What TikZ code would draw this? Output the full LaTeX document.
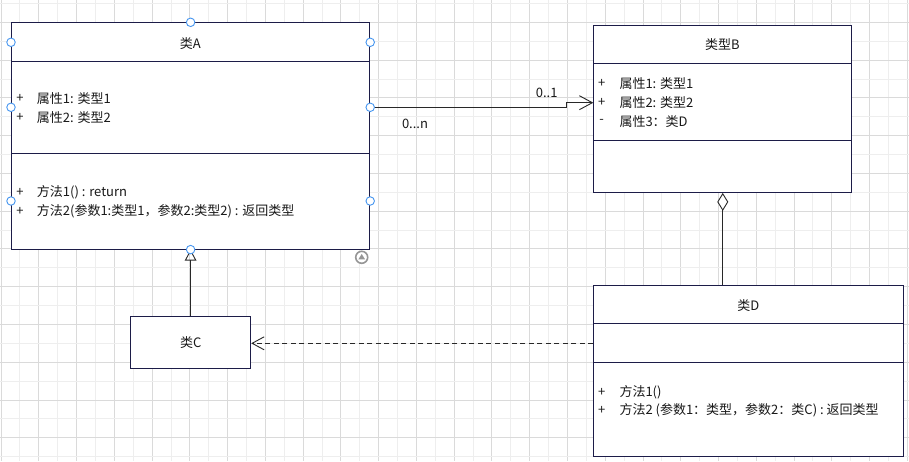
\documentclass[tikz,border=0pt]{standalone}
\usepackage{fontspec}
\setmainfont{Noto Sans CJK SC}
\usetikzlibrary{arrows.meta,calc}
\definecolor{gridA}{RGB}{218,218,218}
\definecolor{gridB}{RGB}{238,238,238}
\definecolor{boxc}{RGB}{28,28,72}
\definecolor{linec}{RGB}{40,40,40}
\definecolor{txtc}{RGB}{25,25,25}
\definecolor{handlec}{RGB}{70,150,240}
\definecolor{iconc}{RGB}{150,150,150}
\begin{document}
\begin{tikzpicture}[x=1pt,y=-1pt,
  umlbox/.style={draw=boxc, fill=white, line width=0.9pt, inner sep=0pt, anchor=north west},
  sep/.style={draw=boxc, line width=0.9pt},
  title/.style={font=\fontsize{13}{15}\selectfont, text=txtc, inner sep=0pt},
  txt/.style={font=\fontsize{13}{15}\selectfont, text=txtc, inner sep=0pt, anchor=west},
  vis/.style={font=\fontsize{13}{15}\selectfont, text=txtc, inner sep=0pt},
  conn/.style={draw=linec, line width=0.9pt},
  handle/.style={circle, draw=handlec, fill=white, line width=0.9pt, minimum size=8.5pt, inner sep=0pt}
]
% canvas and background grid
\useasboundingbox (0,0) rectangle (909,461);
\fill[white] (0,0) rectangle (909,461);
\foreach \k in {0,...,24} {
  \draw[gridA, line width=0.8pt] ({1+\k*37.76},0) -- ({1+\k*37.76},461);
  \draw[gridB, line width=0.8pt] ({19.88+\k*37.76},0) -- ({19.88+\k*37.76},461);
}
\foreach \k in {0,...,12} {
  \draw[gridA, line width=0.8pt] (0,{22.3+\k*37.76}) -- (909,{22.3+\k*37.76});
  \draw[gridB, line width=0.8pt] (0,{3.42+\k*37.76}) -- (909,{3.42+\k*37.76});
}

% class A
\node[umlbox, minimum width=358.3pt, minimum height=226.4pt] (A) at (11,22.3) {};
\draw[sep] ($(A.north west)+(0,39.4)$) -- ($(A.north east)+(0,39.4)$);
\draw[sep] ($(A.north west)+(0,131)$) -- ($(A.north east)+(0,131)$);
\node[title] (Atitle) at (190.2,43.3) {类A};
\node[vis] (Aa1v) at (20,98.3) {+};
\node[txt] (Aa1) at (36.7,98.3) {属性1: 类型1};
\node[vis] (Aa2v) at (20,117.3) {+};
\node[txt] (Aa2) at (36.7,117.3) {属性2: 类型2};
\node[vis] (Am1v) at (20,192.7) {+};
\node[txt] (Am1) at (36.7,192.7) {方法1() : return};
\node[vis] (Am2v) at (20,211.7) {+};
\node[txt] (Am2) at (36.7,211.7) {方法2(参数1:类型1，参数2:类型2) : 返回类型};

% type B
\node[umlbox, minimum width=258pt, minimum height=167.3pt] (B) at (593.3,24.7) {};
\draw[sep] ($(B.north west)+(0,38.6)$) -- ($(B.north east)+(0,38.6)$);
\draw[sep] ($(B.north west)+(0,115.6)$) -- ($(B.north east)+(0,115.6)$);
\node[title] (Btitle) at (722.3,45) {类型B};
\node[vis] (Ba1v) at (601.7,83.3) {+};
\node[txt] (Ba1) at (619.3,83.3) {属性1: 类型1};
\node[vis] (Ba2v) at (601.7,102.7) {+};
\node[txt] (Ba2) at (619.3,102.7) {属性2: 类型2};
\node[vis] (Ba3v) at (601.7,121.7) {-};
\node[txt] (Ba3) at (619.3,121.7) {属性3：类D};

% class D
\node[umlbox, minimum width=310pt, minimum height=171.3pt] (D) at (593.3,284.7) {};
\draw[sep] ($(D.north west)+(0,39)$) -- ($(D.north east)+(0,39)$);
\draw[sep] ($(D.north west)+(0,77.6)$) -- ($(D.north east)+(0,77.6)$);
\node[title] (Dtitle) at (748.3,305.7) {类D};
\node[vis] (Dm1v) at (601.7,392.7) {+};
\node[txt] (Dm1) at (619.3,392.7) {方法1()};
\node[vis] (Dm2v) at (601.7,410.7) {+};
\node[txt] (Dm2) at (619.3,410.7) {方法2 (参数1：类型，参数2：类C) : 返回类型};

% class C
\node[umlbox, minimum width=120pt, minimum height=51.7pt] (C) at (130.3,316.3) {};
\node[title] (Ctitle) at (C.center) {类C};

% association A -> B
\coordinate (Aout) at ($(A.north east)+(0,85)$);
\coordinate (Bin) at ($(B.north west)+(0,78)$);
\coordinate (Bend) at (566.7,107.3);
\draw[conn, -{Straight Barb[length=13pt,width=14pt,line width=0.9pt]}]
  (Aout) -- (Bend) -- (Bend |- Bin) -- (Bin);
\node[vis] (mulB) at (546.7,92.7) {0..1};
\node[vis] (mulA) at (415,124) {0...n};

% aggregation B <>-- D
\draw[conn, {Diamond[open,length=18pt,width=11pt,line width=0.9pt]}-]
  (B.south) -- (B.south |- D.north);

% generalisation C --|> A
\draw[conn, -{Triangle[open,length=11pt,width=11.6pt,line width=0.9pt]}]
  (C.north -| A.south) -- (A.south);

% dependency D ..> C
\draw[conn, dash pattern=on 5pt off 3.5pt, -{Straight Barb[length=12pt,width=13pt,line width=0.9pt]}]
  (D.west |- 0,343.3) -- (C.east |- 0,343.3);

% connection handles on A
\node[handle] (h1) at (A.north) {};
\node[handle] (h2) at (A.south) {};
\node[handle] (h3) at ($(A.north west)+(0,20)$) {};
\node[handle] (h4) at ($(A.north east)+(0,20)$) {};
\node[handle] (h5) at ($(A.north west)+(0,85)$) {};
\node[handle] (h6) at (Aout) {};
\node[handle] (h7) at ($(A.north west)+(0,178.7)$) {};
\node[handle] (h8) at ($(A.north east)+(0,178.7)$) {};

% rotate icon
\node[circle, draw=iconc, fill=white, line width=1.6pt, minimum size=12pt, inner sep=0pt] (rot) at (361.7,257.3) {};
\fill[iconc] ($(rot.center)+(0,-3.3)$) -- ($(rot.center)+(3.3,2)$) -- ($(rot.center)+(-3.3,2)$) -- cycle;
\end{tikzpicture}
\end{document}
